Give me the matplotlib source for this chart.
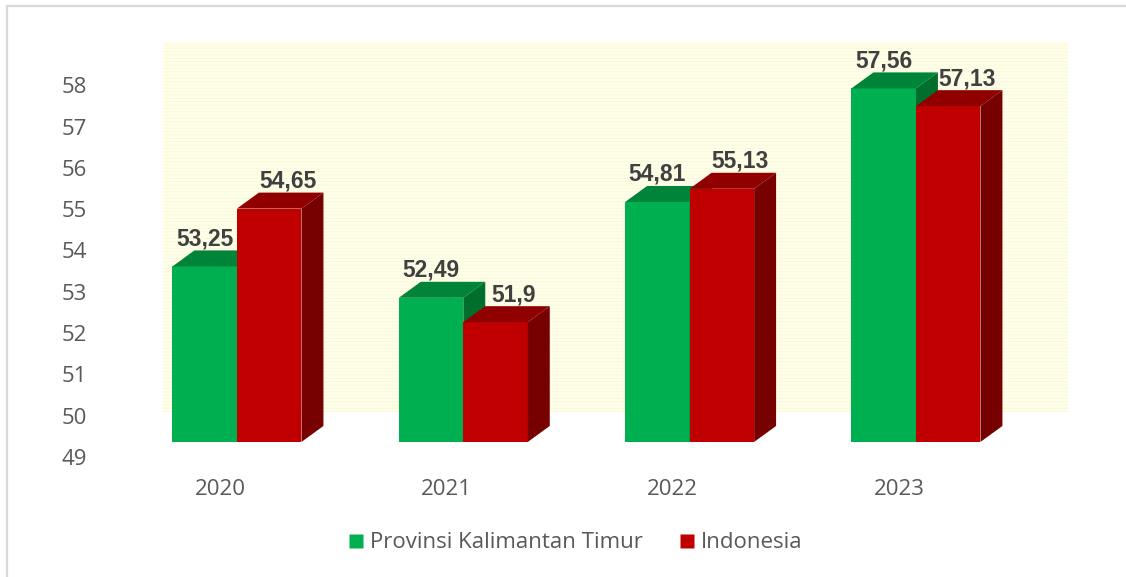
import matplotlib
matplotlib.use('Agg')

import matplotlib.pyplot as plt
import matplotlib.transforms as mtransforms
from matplotlib.patches import Polygon, Rectangle
from matplotlib.lines import Line2D

# =========================
# DATA
# =========================
years = ["2020", "2021", "2022", "2023"]
kaltim = [53.25, 52.49, 54.81, 57.56]
indonesia = [54.65, 51.9, 55.13, 57.13]
series_names = ["Provinsi Kalimantan Timur", "Indonesia"]
yticks = list(range(49, 59))

# =========================
# STYLE
# =========================
W, H, DPI = 1126, 577, 100
BASE = 49
BAR_W = 0.285
DX, DY = 0.097, 0.387          # 3d depth offset (data units)
GREEN = ("#00B050", "#00843A", "#006F2E")   # front, top, side
RED = ("#C00000", "#900000", "#770000")
TXT = "#595959"
LBL = "#404040"
AXFONT = "Open Sans"

plt.rcParams["hatch.color"] = "#F8F8DC"
plt.rcParams["hatch.linewidth"] = 0.6

fig = plt.figure(figsize=(W / DPI, H / DPI), dpi=DPI)
ax = fig.add_axes([0, 0, 1, 1])
ax.set_xlim(-1.047, 3.928)
ax.set_ylim(45.73, 59.70)
ax.axis("off")

# back wall
wall = Rectangle((-0.327, 49.724), 3.999, 8.959, facecolor="#FEFEEA",
                 edgecolor="#FAFAD6", hatch="-----", linewidth=0, zorder=0)
ax.add_patch(wall)


def bar3d(x0, v, cols, z):
    x1 = x0 + BAR_W
    ax.add_patch(Rectangle((x0, BASE), BAR_W, v - BASE, facecolor=cols[0],
                           edgecolor="none", zorder=z))
    ax.add_patch(Polygon([(x0, v), (x1, v), (x1 + DX, v + DY), (x0 + DX, v + DY)],
                         closed=True, facecolor=cols[1], edgecolor="none", zorder=z))
    ax.add_patch(Polygon([(x1, BASE), (x1 + DX, BASE + DY), (x1 + DX, v + DY), (x1, v)],
                         closed=True, facecolor=cols[2], edgecolor="none", zorder=z))


def fmt(v):
    return ("%g" % v).replace(".", ",")


red_shift = mtransforms.ScaledTranslation(0.185, 0.0, fig.dpi_scale_trans)

for i in range(len(years)):
    bar3d(i - BAR_W, kaltim[i], GREEN, 2)
    bar3d(i, indonesia[i], RED, 3)
    ax.text(i - BAR_W / 2, kaltim[i] + DY, fmt(kaltim[i]), ha="center", va="bottom",
            fontsize=16.5, fontweight="bold", family="Liberation Sans", color=LBL,
            zorder=5)
    ax.text(i + BAR_W / 2, indonesia[i] + DY, fmt(indonesia[i]), ha="center", va="bottom",
            fontsize=16.5, fontweight="bold", family="Liberation Sans", color=LBL,
            transform=ax.transData + red_shift, zorder=5)

# category labels
cat_shift = mtransforms.ScaledTranslation(-0.17, -0.48, fig.dpi_scale_trans)
for i, y in enumerate(years):
    ax.text(i, BASE, y, ha="center", va="center", fontsize=16, family=AXFONT,
            color=TXT, transform=ax.transData + cat_shift)

# y tick labels
tick_shift = mtransforms.ScaledTranslation(0, -0.175, fig.dpi_scale_trans)
for v in yticks:
    ax.text(87 / W, v, str(v), ha="right", va="center", fontsize=16, family=AXFONT,
            color=TXT, transform=ax.get_yaxis_transform() + tick_shift)

# legend
handles = [Line2D([], [], marker="s", linestyle="none", markersize=10,
                  markerfacecolor=c, markeredgecolor="none") for c in (GREEN[0], RED[0])]
leg = fig.legend(handles, series_names, loc="center", bbox_to_anchor=(0.511, 0.059),
                 ncol=2, frameon=False, handlelength=0.7, handletextpad=0.3,
                 columnspacing=1.6, prop={"family": AXFONT, "size": 16})
for t in leg.get_texts():
    t.set_color(TXT)

# outer frame (left and top only)
fig.add_artist(Line2D([7 / W, 7 / W], [0, 1 - 6 / H], color="#D9D9D9", linewidth=1.6))
fig.add_artist(Line2D([7 / W, 1], [1 - 6 / H, 1 - 6 / H], color="#D9D9D9", linewidth=1.6))

fig.savefig("out.png", dpi=DPI)
